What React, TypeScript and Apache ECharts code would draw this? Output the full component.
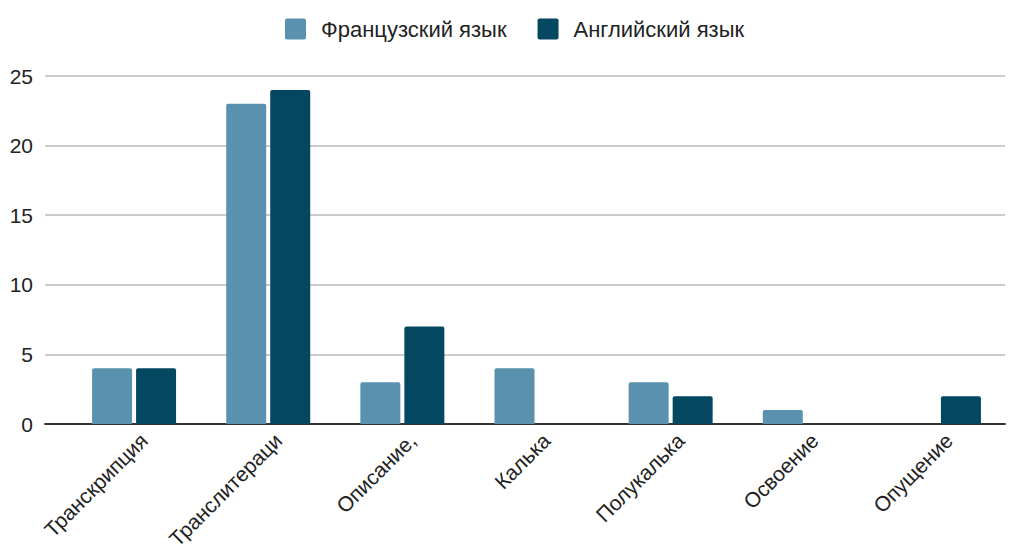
import React, { useEffect, useRef } from "react";
import * as echarts from "echarts";

const categories = [
  "Транскрипция",
  "Транслитераци",
  "Описание,",
  "Калька",
  "Полукалька",
  "Освоение",
  "Опущение",
];
const frenchValues = [4, 23, 3, 4, 3, 1, 0];
const englishValues = [4, 24, 7, 0, 2, 0, 2];
const seriesNames = ["Французский язык", "Английский язык"];
const yTicks = { min: 0, max: 25, interval: 5 };

const FONT = "'Liberation Sans', Arial, sans-serif";
const TEXT = "#222222";

export default function App() {
  const ref = useRef<HTMLDivElement>(null);

  useEffect(() => {
    if (!ref.current) return;
    const chart = echarts.init(ref.current, null, { renderer: "svg" });

    const bar = (name: string, data: number[], color: string) => ({
      name,
      type: "bar",
      xAxisIndex: 1,
      yAxisIndex: 1,
      data: data.map((v) => (v === 0 ? null : v)),
      barWidth: 40,
      barGap: "10%",
      itemStyle: { color, borderRadius: [2, 2, 0, 0] },
    });

    chart.setOption({
      animation: false,
      textStyle: { fontFamily: FONT },
      legend: {
        top: 13,
        left: 280,
        itemWidth: 21,
        itemHeight: 21,
        itemGap: 31,
        icon: "path://M2,0H19A2,2,0,0,1,21,2V19A2,2,0,0,1,19,21H2A2,2,0,0,1,0,19V2A2,2,0,0,1,2,0Z",
        textStyle: { fontSize: 22, color: TEXT, fontFamily: FONT, padding: [0, 0, 0, 10] },
        data: seriesNames,
      },
      grid: [
        // frame: gridlines, y labels and baseline
        { left: 45, right: 11, top: 76, bottom: 128 },
        // bars
        { left: 67, right: 10, top: 76, bottom: 128 },
        // rotated category labels
        { left: 77, width: 939, top: 76, bottom: 128 },
      ],
      xAxis: [
        {
          gridIndex: 0,
          type: "value",
          min: 0,
          max: 1,
          axisLine: { show: true, lineStyle: { color: "#333333", width: 2 } },
          axisTick: { show: false },
          axisLabel: { show: false },
          splitLine: { show: false },
        },
        {
          gridIndex: 1,
          type: "category",
          data: categories,
          axisLine: { show: false },
          axisTick: { show: false },
          axisLabel: { show: false },
        },
        {
          gridIndex: 2,
          type: "category",
          data: categories,
          axisLine: { show: false },
          axisTick: { show: false },
          axisLabel: {
            rotate: 45,
            interval: 0,
            margin: 22,
            fontSize: 21,
            color: TEXT,
            fontFamily: FONT,
          },
        },
      ],
      yAxis: [
        {
          gridIndex: 0,
          type: "value",
          ...yTicks,
          axisLine: { show: false },
          axisTick: { show: false },
          axisLabel: { fontSize: 21, color: TEXT, margin: 12, fontFamily: FONT },
          splitLine: { lineStyle: { color: "#cccccc", width: 2 } },
        },
        {
          gridIndex: 1,
          type: "value",
          ...yTicks,
          show: false,
          splitLine: { show: false },
        },
        {
          gridIndex: 2,
          type: "value",
          ...yTicks,
          show: false,
          splitLine: { show: false },
        },
      ],
      series: [
        bar(seriesNames[0], frenchValues, "#5a91ae"),
        bar(seriesNames[1], englishValues, "#034761"),
      ],
    });

    return () => chart.dispose();
  }, []);

  return <div ref={ref} style={{ width: 1016, height: 552, margin: -8 }} />;
}
